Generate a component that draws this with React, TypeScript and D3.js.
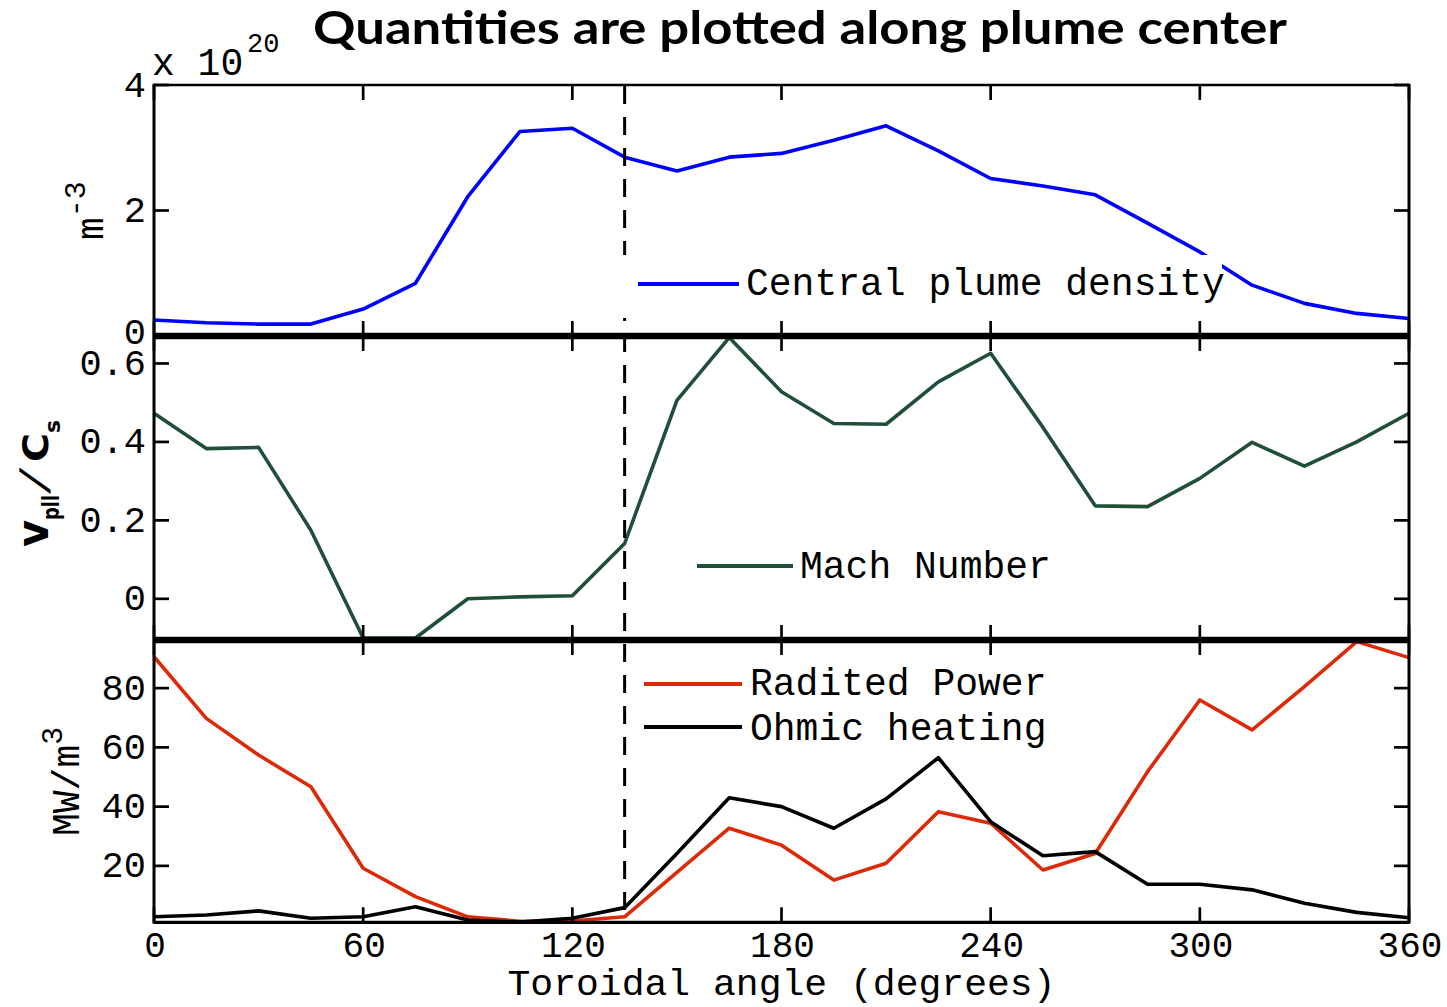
import React from 'react';
import * as d3 from 'd3';

// Toroidal angle samples (degrees)
const angles = [0, 15, 30, 45, 60, 75, 90, 105, 120, 135, 150, 165, 180, 195, 210, 225, 240, 255, 270, 285, 300, 315, 330, 345, 360];
// Central plume density (x 10^20 m^-3)
const plumeDensity = [0.255, 0.21, 0.19, 0.19, 0.43, 0.84, 2.22, 3.26, 3.31, 2.85, 2.63, 2.85, 2.91, 3.12, 3.35, 2.95, 2.51, 2.39, 2.25, 1.8, 1.34, 0.81, 0.52, 0.36, 0.28];
// Parallel Mach number v_pll / C_s
const machNumber = [0.473, 0.383, 0.386, 0.175, -0.1, -0.1, 0.0, 0.005, 0.008, 0.141, 0.506, 0.666, 0.528, 0.447, 0.445, 0.553, 0.626, 0.437, 0.237, 0.235, 0.307, 0.399, 0.338, 0.4, 0.473];
// Power densities (MW/m^3)
const radiatedPower = [90.6, 69.8, 57.4, 46.7, 19.2, 9.6, 2.8, 1.3, 1.4, 2.8, 17.8, 32.7, 27.0, 15.2, 20.9, 38.3, 34.4, 18.6, 24.2, 51.8, 76.0, 65.9, 80.5, 95.7, 90.3];
const ohmicHeating = [2.8, 3.4, 4.8, 2.3, 2.8, 6.2, 1.7, 1.0, 2.3, 5.9, 24.2, 43.0, 40.0, 32.7, 42.6, 56.5, 34.9, 23.4, 24.8, 13.8, 13.8, 11.9, 7.4, 4.3, 2.5];

const xTicks = [0, 60, 120, 180, 240, 300, 360];
const densityTicks = [0, 2, 4];
const machTicks = [0, 0.2, 0.4, 0.6];
const powerTicks = [20, 40, 60, 80];
const markerAngle = 135;

const W = 1447;
const H = 1007;
const LEFT = 154;
const RIGHT = 1409;
const TOP1 = 85, BOT1 = 336;
const TOP2 = 336, BOT2 = 640;
const TOP3 = 640, BOT3 = 922.3;

const MONO = '"Liberation Mono", "DejaVu Sans Mono", monospace';
const SANS = '"DejaVu Sans", sans-serif';

const x = d3.scaleLinear().domain([0, 360]).range([LEFT, RIGHT]);
const yDen = d3.scaleLinear().domain([0, 4]).range([BOT1, TOP1]);
const yMach = d3.scaleLinear().domain([-0.105, 0.67]).range([BOT2, TOP2]);
const yPow = d3.scaleLinear().domain([0.95, 96.25]).range([BOT3, TOP3]);

const makeLine = (y: d3.ScaleLinear<number, number>) =>
  d3.line<number>().x((_, i) => x(angles[i])).y((d) => y(d));

const panels = [
  { y: yDen, top: TOP1, bottom: BOT1, ticks: densityTicks },
  { y: yMach, top: TOP2, bottom: BOT2, ticks: machTicks },
  { y: yPow, top: TOP3, bottom: BOT3, ticks: powerTicks },
];

const BLUE = '#0000ff';
const GREEN = '#1f5037';
const RED = '#dc2a08';
const TICK = 15;
const LW = 3.6;

export default function App() {
  return (
    <svg width={W} height={H} style={{ position: 'absolute', left: 0, top: 0, background: '#fff' }}>
      <rect x={0} y={0} width={W} height={H} fill="#fff" />

      {/* data curves */}
      <path d={makeLine(yDen)(plumeDensity) || ''} fill="none" stroke={BLUE} strokeWidth={LW} strokeLinejoin="round" />
      <path d={makeLine(yMach)(machNumber) || ''} fill="none" stroke={GREEN} strokeWidth={LW} strokeLinejoin="round" />
      <path d={makeLine(yPow)(radiatedPower) || ''} fill="none" stroke={RED} strokeWidth={LW} strokeLinejoin="round" />
      <path d={makeLine(yPow)(ohmicHeating) || ''} fill="none" stroke="#000" strokeWidth={LW} strokeLinejoin="round" />

      {/* vertical dashed marker */}
      <line x1={x(markerAngle)} x2={x(markerAngle)} y1={TOP1 + 1} y2={BOT3} stroke="#000" strokeWidth={3} strokeDasharray="18 13" />

      {/* ticks */}
      {panels.map((p, pi) => (
        <g key={pi} stroke="#000" strokeWidth={2.7}>
          {xTicks.map((t) => (
            <g key={t}>
              <line x1={x(t)} x2={x(t)} y1={p.top} y2={p.top + TICK} />
              <line x1={x(t)} x2={x(t)} y1={p.bottom} y2={p.bottom - TICK} />
            </g>
          ))}
          {p.ticks.map((t) => (
            <g key={t}>
              <line x1={LEFT} x2={LEFT + TICK} y1={p.y(t)} y2={p.y(t)} />
              <line x1={RIGHT} x2={RIGHT - TICK} y1={p.y(t)} y2={p.y(t)} />
            </g>
          ))}
        </g>
      ))}

      {/* frame */}
      <g stroke="#000" fill="none">
        <line x1={LEFT} x2={LEFT} y1={TOP1 - 1.3} y2={BOT3 + 1.5} strokeWidth={3} />
        <line x1={RIGHT} x2={RIGHT} y1={TOP1 - 1.3} y2={BOT3 + 1.5} strokeWidth={3} />
        <line x1={LEFT} x2={RIGHT} y1={TOP1} y2={TOP1} strokeWidth={2.7} />
        <line x1={LEFT} x2={RIGHT} y1={BOT1} y2={BOT1} strokeWidth={6.5} />
        <line x1={LEFT} x2={RIGHT} y1={BOT2} y2={BOT2} strokeWidth={6.5} />
        <line x1={LEFT} x2={RIGHT} y1={BOT3} y2={BOT3} strokeWidth={3.2} />
      </g>

      {/* y tick labels */}
      <g fontFamily={MONO} fontSize={37} textAnchor="end" fill="#000">
        {panels.map((p, pi) =>
          p.ticks.map((t) => (
            <text key={`${pi}-${t}`} x={146} y={p.y(t) + (pi === 0 && t === 0 ? 8 : 11.5)}>
              {String(t)}
            </text>
          ))
        )}
      </g>

      {/* x tick labels */}
      <g fontFamily={MONO} fontSize={36} textAnchor="middle" fill="#000">
        {xTicks.map((t) => (
          <text key={t} x={x(t) + 1} y={957}>
            {String(t)}
          </text>
        ))}
      </g>
      <text x={(LEFT + RIGHT) / 2} y={995} fontFamily={MONO} fontSize={36} textAnchor="middle" textLength={548} lengthAdjust="spacingAndGlyphs">
        Toroidal angle (degrees)
      </text>

      {/* density exponent */}
      <text x={152} y={75} fontFamily={MONO} fontSize={38}>
        x 10
      </text>
      <text x={247} y={52} fontFamily={MONO} fontSize={27}>
        20
      </text>

      {/* y axis labels */}
      <text transform="translate(103,240) rotate(-90)" fontFamily={MONO} fontSize={38}>
        m<tspan fontSize={30} dy={-18}>-3</tspan>
      </text>
      <text transform="translate(79,836) rotate(-90)" fontFamily={MONO} fontSize={38}>
        MW/m<tspan fontSize={30} dy={-17}>3</tspan>
      </text>
      <g transform="translate(48,547) rotate(-90)" fontFamily={SANS} fontWeight="bold" fill="#000">
        <text x={0} y={0} fontSize={45} textLength={27} lengthAdjust="spacingAndGlyphs">v</text>
        <text x={27} y={11} fontSize={23} textLength={25} lengthAdjust="spacingAndGlyphs">pll</text>
        <g transform="translate(54,0) skewX(-22)">
          <text x={0} y={-1} fontSize={38}>/</text>
        </g>
        <text x={85} y={0} fontSize={35} textLength={29} lengthAdjust="spacingAndGlyphs">C</text>
        <text x={114} y={12} fontSize={22} textLength={13} lengthAdjust="spacingAndGlyphs">s</text>
      </g>

      {/* legends */}
      <rect x={612} y={255} width={610} height={63} fill="#fff" />
      <g fontFamily={MONO} fontSize={38} fill="#000">
        <line x1={638} x2={739} y1={284} y2={284} stroke={BLUE} strokeWidth={4} />
        <text x={746} y={295}>Central plume density</text>

        <line x1={697} x2={793} y1={566} y2={566} stroke={GREEN} strokeWidth={4} />
        <text x={800} y={578}>Mach Number</text>

        <line x1={644} x2={742} y1={684} y2={684} stroke={RED} strokeWidth={4} />
        <text x={750} y={695}>Radited Power</text>
        <line x1={644} x2={742} y1={727} y2={727} stroke="#000" strokeWidth={4} />
        <text x={750} y={740}>Ohmic heating</text>
      </g>

      {/* title */}
      <text x={313} y={44} fontFamily="Lato, sans-serif" fontWeight="bold" fontSize={45} textLength={974} lengthAdjust="spacingAndGlyphs">
        Quantities are plotted along plume center
      </text>
    </svg>
  );
}
